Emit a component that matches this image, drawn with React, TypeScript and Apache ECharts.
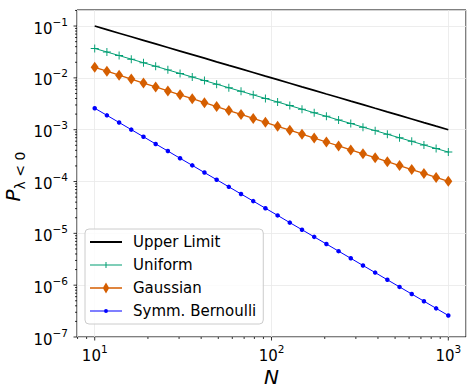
import React, { useEffect, useRef } from "react";
import * as echarts from "echarts";

const N = [10, 11.72, 13.74, 16.1, 18.87, 22.12, 25.93, 30.39, 35.62, 41.75, 48.94, 57.36, 67.23, 78.8, 92.37, 108.27, 126.9, 148.74, 174.33, 204.35, 239.51, 280.73, 329.05, 385.66, 452.04, 529.83, 621.02, 727.9, 853.17, 1000];

const upperLimit = [0.1, 0.0853, 0.0728, 0.0621, 0.053, 0.0452, 0.0386, 0.0329, 0.0281, 0.024, 0.0204, 0.0174, 0.0149, 0.0127, 0.0108, 0.00924, 0.00788, 0.00672, 0.00574, 0.00489, 0.00418, 0.00356, 0.00304, 0.00259, 0.00221, 0.00189, 0.00161, 0.00137, 0.00117, 0.001];

const uniform = [0.037, 0.03157, 0.02693, 0.02298, 0.0196, 0.01672, 0.01427, 0.01217, 0.01039, 0.00886, 0.00756, 0.00645, 0.0055, 0.0047, 0.00401, 0.00342, 0.00292, 0.00249, 0.00212, 0.00181, 0.00154, 0.00132, 0.00112, 0.000959, 0.000818, 0.000698, 0.000596, 0.000508, 0.000434, 0.00037];

const gaussian = [0.016, 0.01344, 0.01128, 0.00947, 0.00796, 0.00668, 0.00561, 0.00471, 0.00396, 0.00332, 0.00279, 0.00234, 0.00197, 0.00165, 0.00139, 0.00116, 0.000978, 0.000821, 0.000689, 0.000579, 0.000486, 0.000408, 0.000343, 0.000288, 0.000242, 0.000203, 0.00017, 0.000143, 0.00012, 0.000101];

const bernoulli = [0.0026, 0.001893, 0.001377, 0.001003, 0.00073, 0.000531, 0.000387, 0.000281, 0.000205, 0.000149, 0.0001085, 0.000079, 0.0000575, 0.0000419, 0.0000305, 0.0000222, 0.0000161, 0.00001175, 0.00000855, 0.00000623, 0.00000453, 0.0000033, 0.0000024, 0.00000175, 0.00000127, 0.000000926, 0.000000674, 0.000000491, 0.000000357, 0.00000026];

const seriesNames = ["Upper Limit", "Uniform", "Gaussian", "Symm. Bernoulli"];

const xMajorTicks = [10, 100, 1000];
const xMinorTicks = [8, 9, 20, 30, 40, 50, 60, 70, 80, 90, 200, 300, 400, 500, 600, 700, 800, 900];
const yMajorTicks = [1e-7, 1e-6, 1e-5, 1e-4, 1e-3, 1e-2, 1e-1];
const yMinorTicks = [
  2e-7, 3e-7, 4e-7, 5e-7, 6e-7, 7e-7, 8e-7, 9e-7,
  2e-6, 3e-6, 4e-6, 5e-6, 6e-6, 7e-6, 8e-6, 9e-6,
  2e-5, 3e-5, 4e-5, 5e-5, 6e-5, 7e-5, 8e-5, 9e-5,
  2e-4, 3e-4, 4e-4, 5e-4, 6e-4, 7e-4, 8e-4, 9e-4,
  2e-3, 3e-3, 4e-3, 5e-3, 6e-3, 7e-3, 8e-3, 9e-3,
  2e-2, 3e-2, 4e-2, 5e-2, 6e-2, 7e-2, 8e-2, 9e-2, 0.2,
];

const X_MIN = 7.94;
const X_MAX = 1259;
const Y_MIN = 1e-7;
const Y_MAX = 0.204;

const FONT = "DejaVu Sans";
const PLUS = "path://M0,4.4h10v1.2h-10zM4.4,0h1.2v10h-1.2z";

// legend icons (32 x 12 box, tiny corner dots fix the bounding box)
const BOX = "M0,0h0.01v0.01h-0.01zM31.99,11.99h0.01v0.01h-0.01z";
const legendIcons = [
  "path://" + BOX + "M0,5.1h32v1.8h-32z",
  "path://" + BOX + "M0,5.5h32v1h-32zM15.5,3h1v6h-1zM13,5.5h6v1h-6z",
  "path://" + BOX + "M0,5.3h32v1.4h-32zM16,0.5L19.2,6L16,11.5L12.8,6z",
  "path://" + BOX + "M0,5.5h32v1h-32zM14,6a2,2 0 1,1 4,0a2,2 0 1,1 -4,0z",
];

function powLabel(v: number): string {
  const e = Math.log10(v);
  const r = Math.round(e);
  if (Math.abs(e - r) > 1e-6) return "";
  const s = r < 0 ? "\u2212" + Math.abs(r) : String(r);
  return "{b|10}{s|" + s + "}";
}

const labelRich = {
  b: { fontSize: 15, fontFamily: FONT, color: "#000", verticalAlign: "bottom", lineHeight: 20 },
  s: { fontSize: 10.5, fontFamily: FONT, color: "#000", verticalAlign: "top", lineHeight: 20 },
};

export default function App() {
  const ref = useRef<HTMLDivElement>(null);
  useEffect(() => {
    if (!ref.current) return;
    const chart = echarts.init(ref.current, null, { renderer: "svg" });
    const xTickSeries = (vals: number[], len: number) => ({
      type: "custom",
      silent: true,
      clip: false,
      z: 5,
      data: vals.map((v) => [v, Y_MIN, len]),
      renderItem: (_p: any, api: any) => {
        const p = api.coord([api.value(0), Y_MIN]);
        return {
          type: "line",
          shape: { x1: p[0], y1: p[1], x2: p[0], y2: p[1] + api.value(2) },
          style: { stroke: "#000", lineWidth: 0.8 },
        };
      },
    });
    const yTickSeries = (vals: number[], len: number) => ({
      type: "custom",
      silent: true,
      clip: false,
      z: 5,
      data: vals.map((v) => [X_MIN, v, len]),
      renderItem: (_p: any, api: any) => {
        const p = api.coord([X_MIN, api.value(1)]);
        return {
          type: "line",
          shape: { x1: p[0], y1: p[1], x2: p[0] - api.value(2), y2: p[1] },
          style: { stroke: "#000", lineWidth: 0.8 },
        };
      },
    });
    const pairs = (ys: number[]) => N.map((n, i) => [n, ys[i]]);
    chart.setOption({
      animation: false,
      backgroundColor: "#fff",
      grid: {
        left: 77, right: 10, top: 10, bottom: 55,
        containLabel: false,
        outerBoundsMode: "none",
        show: true, borderColor: "#000", borderWidth: 1, backgroundColor: "transparent",
      },
      xAxis: {
        type: "log",
        logBase: 10,
        min: X_MIN,
        max: X_MAX,
        name: "N",
        nameLocation: "middle",
        nameGap: 30,
        nameMoveOverlap: false,
        nameTextStyle: { fontSize: 20, fontStyle: "italic", fontFamily: FONT, color: "#000" },
        axisLine: { show: false },
        axisTick: { show: false },
        axisLabel: { formatter: powLabel, rich: labelRich, margin: 6, showMinLabel: false, showMaxLabel: false },
        splitLine: { show: true, lineStyle: { color: "#e8e8e8", width: 0.8 } },
      },
      yAxis: {
        type: "log",
        logBase: 10,
        min: Y_MIN,
        max: Y_MAX,
        name: "{p|P}{s|\u03bb < 0}",
        nameLocation: "middle",
        nameGap: 50,
        nameRotate: 90,
        nameMoveOverlap: false,
        nameTextStyle: {
          padding: [0, 6, 0, 0],
          rich: {
            p: { fontSize: 20, fontStyle: "italic", fontFamily: FONT, color: "#000", verticalAlign: "top", lineHeight: 24 },
            s: { fontSize: 14, fontFamily: FONT, color: "#000", verticalAlign: "bottom", lineHeight: 24 },
          },
        },
        axisLine: { show: false },
        axisTick: { show: false },
        axisLabel: { formatter: powLabel, rich: labelRich, margin: 9, showMinLabel: true, showMaxLabel: false },
        splitLine: { show: true, lineStyle: { color: "#e8e8e8", width: 0.8 } },
      },
      legend: {
        data: seriesNames.map((name, i) => ({ name, icon: legendIcons[i] })),
        orient: "vertical",
        left: 85,
        top: 229,
        itemWidth: 32,
        itemHeight: 12,
        itemGap: 5,
        padding: [4, 7, 4, 5],
        backgroundColor: "rgba(255,255,255,0.8)",
        borderColor: "#cccccc",
        borderWidth: 1,
        borderRadius: 4,
        textStyle: { fontSize: 15, fontFamily: FONT, color: "#000", padding: [0, 0, 0, 6], lineHeight: 18 },
      },
      series: [
        {
          name: seriesNames[0],
          type: "line",
          data: pairs(upperLimit),
          showSymbol: false,
          symbol: "none",
          lineStyle: { color: "#000", width: 1.7 },
          itemStyle: { color: "#000" },
          z: 3,
        },
        {
          name: seriesNames[1],
          type: "line",
          data: pairs(uniform),
          symbol: PLUS,
          symbolSize: 8,
          lineStyle: { color: "#009E73", width: 1 },
          itemStyle: { color: "#009E73" },
          z: 3,
        },
        {
          name: seriesNames[2],
          type: "line",
          data: pairs(gaussian),
          symbol: "diamond",
          symbolSize: [8, 11],
          lineStyle: { color: "#D55E00", width: 1.3 },
          itemStyle: { color: "#D55E00" },
          z: 3,
        },
        {
          name: seriesNames[3],
          type: "line",
          data: pairs(bernoulli),
          symbol: "circle",
          symbolSize: 4.5,
          lineStyle: { color: "#0000FF", width: 1 },
          itemStyle: { color: "#0000FF" },
          z: 3,
        },
        xTickSeries(xMajorTicks, 3.5),
        xTickSeries(xMinorTicks, 2),
        yTickSeries(yMajorTicks, 3.5),
        yTickSeries(yMinorTicks, 2),
      ],
    });
    return () => chart.dispose();
  }, []);
  return <div ref={ref} style={{ width: 476, height: 392, position: "absolute", left: 0, top: 0 }} />;
}
